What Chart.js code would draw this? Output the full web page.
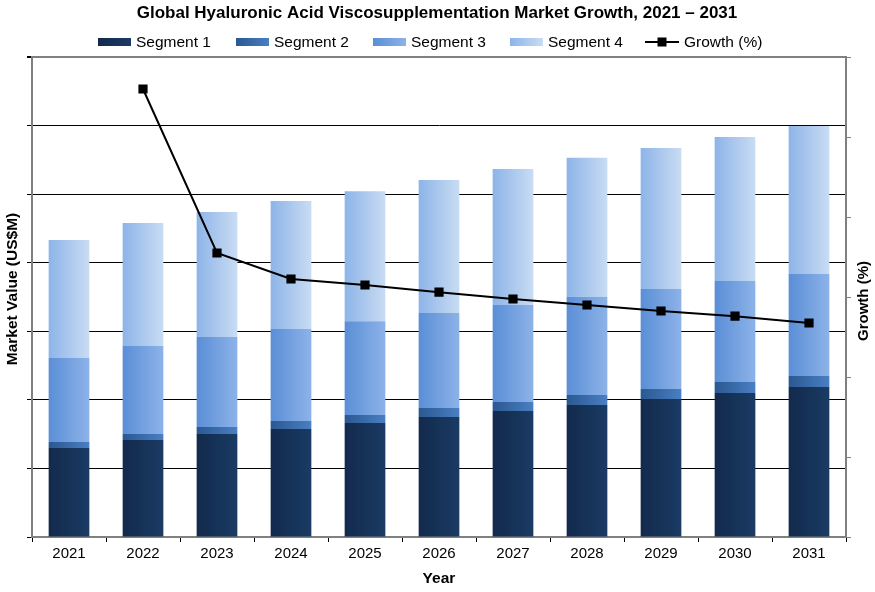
<!DOCTYPE html>
<html>
<head>
<meta charset="utf-8">
<script src="https://cdn.jsdelivr.net/npm/chart.js@4.4.0/dist/chart.umd.min.js"></script>
<style>
html, body { margin: 0; padding: 0; background: #fff; }
#wrap { width: 875px; height: 592px; position: relative; }
</style>
</head>
<body>
<div id="wrap"><canvas id="chart"></canvas></div>
<script>
const years = ['2021', '2022', '2023', '2024', '2025', '2026', '2027', '2028', '2029', '2030', '2031']
const segment1 = [64.9, 70.7, 75.1, 78.8, 83.1, 87.5, 91.9, 96.3, 100.6, 105.0, 109.4]
const segment2 = [4.4, 4.4, 5.1, 5.8, 5.8, 6.6, 6.6, 7.3, 7.3, 8.0, 8.0]
const segment3 = [61.3, 64.2, 65.6, 67.1, 68.5, 69.3, 70.7, 71.5, 72.9, 73.6, 74.4]
const segment4 = [86.0, 89.7, 91.1, 93.3, 94.8, 97.0, 99.2, 101.4, 102.8, 105.0, 107.9]
const growth = [null, 11.2, 7.1, 6.45, 6.3, 6.12, 5.95, 5.8, 5.65, 5.52, 5.35]

const titleText = 'Global Hyaluronic Acid Viscosupplementation Market Growth, 2021 \u2013 2031'
const FONT = '"Liberation Sans", Arial, sans-serif'
const BAR_PCT = 0.55

// horizontal gradient across each bar, dark on the left
function barFill(left, right) {
    return function(ctx) {
        if (ctx.type !== 'data') return left
        const x = ctx.chart.scales.x
        if (!x) return left
        const c = x.getPixelForValue(ctx.dataIndex)
        const w = x.width / years.length * BAR_PCT
        if (!isFinite(c) || !isFinite(w) || w <= 0) return left
        const g = ctx.chart.ctx.createLinearGradient(c - w / 2, 0, c + w / 2, 0)
        g.addColorStop(0, left)
        g.addColorStop(1, right)
        return g
    }
}

const fills = [
    ['#122a4c', '#1a3b64'],
    ['#2a5891', '#4a7fc2'],
    ['#5a8ed6', '#8db3e8'],
    ['#8db4e8', '#c9dcf3']
]

const headerPlugin = {
    id: 'header',
    afterDraw(chart) {
        const c = chart.ctx
        c.save()
        c.fillStyle = '#000'
        c.textBaseline = 'middle'

        c.font = 'bold 17px ' + FONT
        c.textAlign = 'center'
        c.fillText(titleText, 437, 13)

        // legend
        c.font = '15.5px ' + FONT
        c.textAlign = 'left'
        const names = ['Segment 1', 'Segment 2', 'Segment 3', 'Segment 4', 'Growth (%)']
        const starts = [98, 236, 373, 510, 645]
        const y = 42
        names.forEach(function(name, i) {
            const x = starts[i]
            if (i < 4) {
                const g = c.createLinearGradient(x, 0, x + 33, 0)
                g.addColorStop(0, fills[i][0])
                g.addColorStop(1, fills[i][1])
                c.fillStyle = g
                c.fillRect(x, y - 4, 33, 8)
                c.fillStyle = '#000'
                c.fillText(name, x + 38, y + 1)
            } else {
                c.strokeStyle = '#000'
                c.lineWidth = 2
                c.beginPath()
                c.moveTo(x, y)
                c.lineTo(x + 34, y)
                c.stroke()
                c.fillStyle = '#000'
                c.fillRect(x + 12.5, y - 4.5, 9, 9)
                c.fillText(name, x + 39, y + 1)
            }
        })

        // axis titles
        c.font = 'bold 15.5px ' + FONT
        c.textAlign = 'center'
        c.fillText('Year', 439, 579)
        c.save()
        c.translate(13, 289)
        c.rotate(-Math.PI / 2)
        c.fillText('Market Value (US$M)', 0, 0)
        c.restore()
        c.font = 'bold 15px ' + FONT
        c.save()
        c.translate(864, 301)
        c.rotate(-Math.PI / 2)
        c.fillText('Growth (%)', 0, 0)
        c.restore()
        c.restore()
    }
}

function drawChart() {
    const ctx = document.getElementById('chart')
    const segs = [segment1, segment2, segment3, segment4]
    const barSets = segs.map(function(values, i) {
        return {
            type: 'bar',
            label: 'Segment ' + (i + 1),
            data: values,
            backgroundColor: barFill(fills[i][0], fills[i][1]),
            borderWidth: 0,
            yAxisID: 'y',
            order: 1,
            barPercentage: BAR_PCT,
            categoryPercentage: 1
        }
    })

    new Chart(ctx, {
        data: {
            labels: years,
            datasets: [{
                type: 'line',
                label: 'Growth (%)',
                data: growth,
                yAxisID: 'y1',
                borderColor: '#000',
                borderWidth: 2,
                backgroundColor: '#000',
                pointStyle: 'rect',
                pointRadius: 6.5,
                pointBorderWidth: 0,
                tension: 0,
                order: 0
            }].concat(barSets)
        },
        options: {
            responsive: true,
            maintainAspectRatio: false,
            animation: false,
            layout: { padding: { top: 57, left: 0, right: 0, bottom: 0 } },
            plugins: {
                legend: { display: false },
                title: { display: false },
                tooltip: { enabled: false }
            },
            scales: {
                x: {
                    stacked: true,
                    afterFit: function(s) { s.height = 55 },
                    grid: { drawOnChartArea: false, drawTicks: true, tickLength: 5, color: '#000', offset: true },
                    border: { color: '#808080', width: 2 },
                    ticks: { color: '#000', font: { size: 15, family: FONT }, padding: 3 }
                },
                y: {
                    stacked: true,
                    position: 'left',
                    min: 0,
                    max: 350,
                    afterFit: function(s) { s.width = 32 },
                    ticks: { display: false, stepSize: 50 },
                    grid: {
                        color: function(c) { return c.tick && c.tick.value === 350 ? '#808080' : '#000' },
                        lineWidth: function(c) { return c.tick && c.tick.value === 350 ? 2 : 1 },
                        tickColor: '#000',
                        tickLength: 5
                    },
                    border: { color: '#808080', width: 2 }
                },
                y1: {
                    position: 'right',
                    min: 0,
                    max: 12,
                    afterFit: function(s) { s.width = 29 },
                    ticks: { display: false, stepSize: 2 },
                    grid: { drawOnChartArea: false, tickLength: 5, color: '#808080' },
                    border: { color: '#808080', width: 2 }
                }
            }
        },
        plugins: [headerPlugin]
    })
}

drawChart()
</script>
</body>
</html>
